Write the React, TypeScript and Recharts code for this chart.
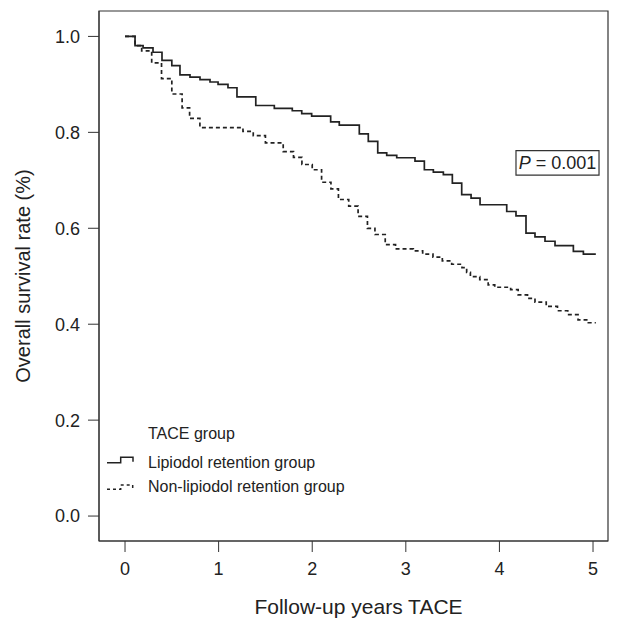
import React from 'react'
import {
  LineChart, Line, XAxis, YAxis, ReferenceArea, Legend, Label,
} from 'recharts'

// Kaplan-Meier steps (years after TACE -> survival)
const lipiodolYears = [
  0, 0.107, 0.193, 0.299, 0.395, 0.5, 0.587, 0.694, 0.801, 0.908, 0.994, 1.1, 1.196,
  1.397, 1.595, 1.787, 1.888, 1.994, 2.197, 2.289, 2.503, 2.599, 2.7, 2.796, 2.903,
  3.098, 3.198, 3.294, 3.401, 3.497, 3.597, 3.697, 3.793, 4.078, 4.177, 4.284, 4.38,
  4.487, 4.594, 4.79, 4.897, 5.03,
]
const lipiodolSurvival = [
  1.0, 0.981, 0.976, 0.967, 0.95, 0.939, 0.92, 0.915, 0.91, 0.905, 0.9, 0.893, 0.874,
  0.856, 0.85, 0.845, 0.839, 0.834, 0.822, 0.815, 0.797, 0.781, 0.757, 0.752, 0.747,
  0.74, 0.722, 0.717, 0.712, 0.694, 0.67, 0.663, 0.649, 0.635, 0.626, 0.59, 0.582,
  0.573, 0.564, 0.552, 0.546, 0.546,
]

const nonLipiodolYears = [
  0, 0.107, 0.178, 0.285, 0.39, 0.5, 0.61, 0.69, 0.8, 1.26, 1.37, 1.5, 1.69, 1.8, 1.89,
  2.0, 2.1, 2.2, 2.28, 2.39, 2.49, 2.59, 2.67, 2.78, 2.89, 3.08, 3.18, 3.29, 3.39, 3.49,
  3.6, 3.65, 3.69, 3.79, 3.88, 3.95, 4.12, 4.2, 4.3, 4.38, 4.5, 4.62, 4.73, 4.84, 4.95,
  5.03,
]
const nonLipiodolSurvival = [
  1.0, 0.981, 0.97, 0.945, 0.912, 0.88, 0.851, 0.829, 0.81, 0.802, 0.793, 0.778, 0.76,
  0.748, 0.733, 0.722, 0.696, 0.682, 0.66, 0.646, 0.625, 0.6, 0.587, 0.566, 0.557,
  0.553, 0.546, 0.54, 0.532, 0.525, 0.518, 0.508, 0.499, 0.493, 0.482, 0.477, 0.472,
  0.461, 0.454, 0.446, 0.437, 0.428, 0.42, 0.409, 0.403, 0.403,
]

const xTicks = [0, 1, 2, 3, 4, 5]
const yTicks = [0, 0.2, 0.4, 0.6, 0.8, 1.0]
const pValue = '0.001'

const X_DOMAIN: [number, number] = [-0.278, 5.16]
const Y_DOMAIN: [number, number] = [-0.052, 1.053]

const toPoints = (years: number[], surv: number[]) =>
  years.map((t, i) => ({ t, s: surv[i] }))

const lipiodolData = toPoints(lipiodolYears, lipiodolSurvival)
const nonLipiodolData = toPoints(nonLipiodolYears, nonLipiodolSurvival)

const INK = '#222'
const FONT = '"Liberation Sans", Arial, Helvetica, sans-serif'

function KmLegend() {
  return (
    <svg width={300} height={90} style={{ display: 'block', overflow: 'visible' }}>
      <text x={48} y={24.3} fontSize={16} fill={INK}>TACE group</text>
      <path d="M7 47.7 H20.7 V42.3 H33 V46.7" fill="none" stroke={INK} strokeWidth={1.5} />
      <text x={48} y={53.3} fontSize={16} fill={INK}>Lipiodol retention group</text>
      <path d="M7 74.3 H20.7 V70 H32.7 V73.3" fill="none" stroke={INK} strokeWidth={1.5}
        strokeDasharray="3 3" />
      <text x={48} y={76.7} fontSize={16} fill={INK}>Non-lipiodol retention group</text>
    </svg>
  )
}

export default function App() {
  return (
    <div style={{ position: 'absolute', left: 0, top: 0, fontFamily: FONT, background: '#fff' }}>
      <LineChart width={622} height={619} margin={{ top: 11, right: 14, left: 0, bottom: 0 }}>
        <XAxis
          type="number"
          dataKey="t"
          domain={X_DOMAIN}
          ticks={xTicks}
          allowDataOverflow
          height={78}
          tickSize={11}
          tickMargin={10}
          axisLine={{ stroke: '#333' }}
          tickLine={{ stroke: '#333' }}
          tick={{ fontSize: 18, fill: INK }}
        >
          <Label
            content={({ viewBox }: any) => (
              <text x={viewBox.x + viewBox.width / 2 + 5} y={614} textAnchor="middle"
                fontSize={21} fill={INK}>
                Follow-up years TACE
              </text>
            )}
          />
        </XAxis>
        <YAxis
          type="number"
          dataKey="s"
          domain={Y_DOMAIN}
          ticks={yTicks}
          allowDataOverflow
          width={99}
          tickSize={11}
          tickMargin={8}
          tickFormatter={(v: number) => v.toFixed(1)}
          axisLine={{ stroke: '#333' }}
          tickLine={{ stroke: '#333' }}
          tick={{ fontSize: 18, fill: INK }}
        >
          <Label
            content={({ viewBox }: any) => {
              const cy = viewBox.y + viewBox.height / 2
              return (
                <text x={23} y={cy} transform={`rotate(-90 23 ${cy})`} textAnchor="middle"
                  dominantBaseline="central" fontSize={20} fill={INK}>
                  Overall survival rate (%)
                </text>
              )
            }}
          />
        </YAxis>

        {/* plot box */}
        <ReferenceArea x1={X_DOMAIN[0]} x2={X_DOMAIN[1]} y1={Y_DOMAIN[0]} y2={Y_DOMAIN[1]}
          fill="none" fillOpacity={0} stroke="#333" strokeWidth={1.2} ifOverflow="visible" />

        {/* p-value box */}
        <ReferenceArea x1={4.177} x2={5.064} y1={0.711} y2={0.762}
          fill="#fff" fillOpacity={1} stroke="#333" strokeWidth={1.2} ifOverflow="visible">
          <Label
            content={({ viewBox }: any) => (
              <text x={viewBox.x + viewBox.width / 2} y={viewBox.y + viewBox.height / 2 + 6.5}
                textAnchor="middle" fontSize={18} fill={INK}>
                <tspan fontStyle="italic">P</tspan> = {pValue}
              </text>
            )}
          />
        </ReferenceArea>

        <Line
          data={lipiodolData}
          dataKey="s"
          name="Lipiodol retention group"
          type="stepAfter"
          stroke={INK}
          strokeWidth={1.7}
          dot={false}
          isAnimationActive={false}
        />
        <Line
          data={nonLipiodolData}
          dataKey="s"
          name="Non-lipiodol retention group"
          type="stepAfter"
          stroke={INK}
          strokeWidth={1.7}
          strokeDasharray="4 3"
          dot={false}
          isAnimationActive={false}
        />

        <Legend
          layout="vertical"
          align="center"
          verticalAlign="middle"
          content={() => <KmLegend />}
          wrapperStyle={{ left: 100, top: 415, width: 300, height: 90 }}
        />
      </LineChart>
    </div>
  )
}
